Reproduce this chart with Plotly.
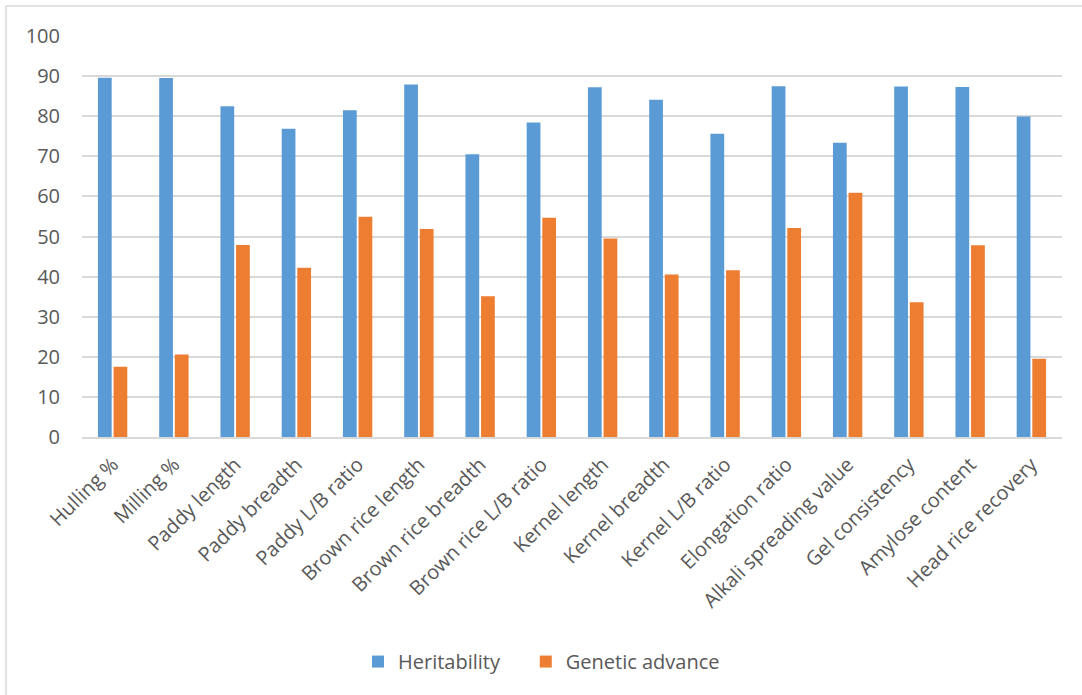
import plotly.graph_objects as go

traits = ["Hulling %", "Milling %", "Paddy length", "Paddy breadth", "Paddy L/B ratio",
          "Brown rice length", "Brown rice breadth", "Brown rice L/B ratio", "Kernel length",
          "Kernel breadth", "Kernel L/B ratio", "Elongation ratio", "Alkali spreading value",
          "Gel consistency", "Amylose content", "Head rice recovery"]
heritability = [89.6, 89.5, 82.5, 76.9, 81.5, 87.9, 70.5, 78.4, 87.2, 84.1, 75.6, 87.5, 73.4, 87.4, 87.3, 79.9]
genetic_advance = [17.5, 20.6, 47.9, 42.2, 54.9, 51.9, 35.1, 54.7, 49.5, 40.5, 41.6, 52.1, 60.9, 33.6, 47.8, 19.5]
y_ticks = [0, 10, 20, 30, 40, 50, 60, 70, 80, 90, 100]

text_col = "#595959"
font_name = "Open Sans"
pad = "\u00a0" * 4  # a bit more room between the two legend entries

fig = go.Figure()
fig.add_trace(go.Bar(x=traits, y=heritability, name="Heritability" + pad,
                     marker=dict(color="#5B9BD5", line=dict(width=0))))
fig.add_trace(go.Bar(x=traits, y=genetic_advance, name="Genetic advance",
                     marker=dict(color="#ED7D31", line=dict(width=0))))

fig.update_layout(
    width=1082, height=695,
    margin=dict(l=82, r=20, t=36, b=258),
    paper_bgcolor="white", plot_bgcolor="white",
    barmode="group", bargap=0.49, bargroupgap=0.12,
    font=dict(family=font_name, color=text_col),
    legend=dict(orientation="h", x=(358 - 82) / 980, xanchor="left", y=-0.56, yanchor="middle",
                font=dict(size=20, color=text_col), itemwidth=30),
    showlegend=True,
)
fig.update_yaxes(range=[0, 100], tickvals=y_ticks, showgrid=True, gridcolor="#D9D9D9",
                 gridwidth=1.5, zeroline=False, showline=False, ticks="",
                 tickfont=dict(size=20, color=text_col), ticklabelstandoff=21)
fig.update_xaxes(tickangle=-45, showline=True, linecolor="#D9D9D9", linewidth=2,
                 ticks="", tickfont=dict(size=20, color=text_col), ticklabelstandoff=6)

# chart frame (only top and left edges are visible in the crop)
fx0 = (6 - 82) / 980
fy1 = (437 - 6) / 401
fig.add_shape(type="line", xref="paper", yref="paper", x0=fx0, x1=1.1, y0=fy1, y1=fy1,
              line=dict(color="#D9D9D9", width=1.5))
fig.add_shape(type="line", xref="paper", yref="paper", x0=fx0, x1=fx0, y0=fy1, y1=-0.7,
              line=dict(color="#D9D9D9", width=1.5))

fig.write_html("out.html", config={"displayModeBar": False},
               post_script="document.body.style.margin='0';")
